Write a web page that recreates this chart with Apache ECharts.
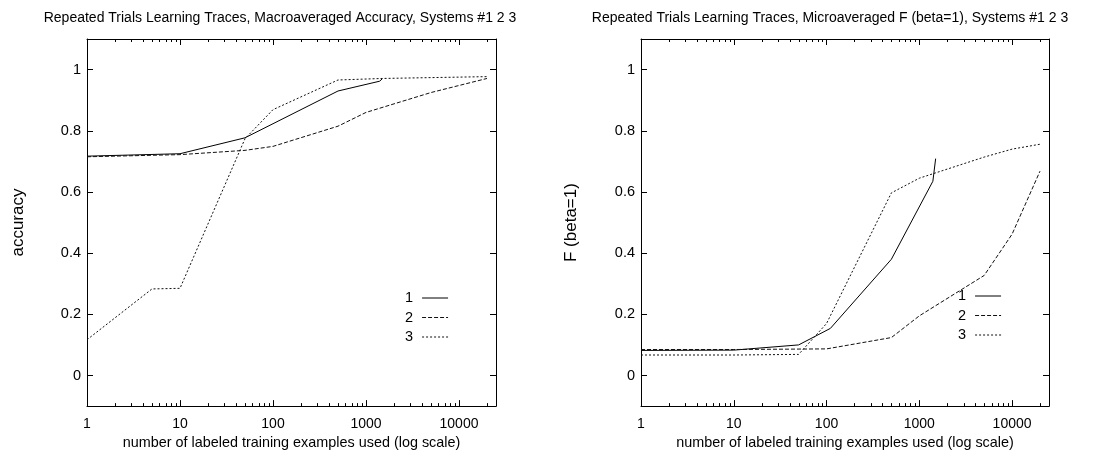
<!DOCTYPE html>
<html><head><meta charset="utf-8">
<script src="https://cdn.jsdelivr.net/npm/echarts@6/dist/echarts.min.js"></script>
<style>html,body{margin:0;padding:0;background:#fff}#c{width:1101px;height:455px}</style>
</head><body><div id="c"></div>
<script>
// ---------- data ----------
const seriesNames = ['1', '2', '3'];
const xMajorTicks = [1, 10, 100, 1000, 10000];
const xMinorTicks = [2,3,4,5,6,7,8,9, 20,30,40,50,60,70,80,90, 200,300,400,500,600,700,800,900,
                     2000,3000,4000,5000,6000,7000,8000,9000, 20000];
const yTickLabels = [0, 0.2, 0.4, 0.6, 0.8, 1];

const leftTitle = 'Repeated Trials Learning Traces, Macroaveraged Accuracy, Systems #1 2 3';
const rightTitle = 'Repeated Trials Learning Traces, Microaveraged F (beta=1), Systems #1 2 3';
const xName = 'number of labeled training examples used (log scale)';
const leftYName = 'accuracy';
const rightYName = 'F (beta=1)';

// Left: macroaveraged accuracy
const accX1 = [1, 10, 50, 500, 1400, 1500];
const accY1 = [0.717, 0.725, 0.777, 0.930, 0.962, 0.970];
const accX2 = [1, 10, 50, 100, 500, 1000, 5000, 20000];
const accY2 = [0.715, 0.722, 0.736, 0.749, 0.815, 0.860, 0.925, 0.971];
const accX3 = [1, 5, 10, 50, 100, 500, 1500, 20000];
const accY3 = [0.117, 0.283, 0.285, 0.774, 0.869, 0.966, 0.971, 0.977];

// Right: microaveraged F (beta=1)
const fX1 = [1, 10, 50, 110, 500, 1400, 1500];
const fY1 = [0.082, 0.083, 0.100, 0.154, 0.380, 0.635, 0.709];
const fX2 = [1, 10, 100, 500, 1000, 5000, 10000, 20000];
const fY2 = [0.085, 0.085, 0.087, 0.124, 0.195, 0.327, 0.462, 0.668];
const fX3 = [1, 10, 50, 100, 500, 1000, 5000, 10000, 20000];
const fY3 = [0.067, 0.067, 0.069, 0.170, 0.597, 0.645, 0.714, 0.740, 0.756];

// ---------- chart ----------
const X_MIN = 1, X_MAX = 25000, Y_MIN = -0.1, Y_MAX = 1.1;
const FONT = "'Liberation Sans', Arial, Helvetica, sans-serif";
const zip = (xs, ys) => xs.map((x, i) => [x, ys[i]]);
const styles = [
  {type: 'solid', color: '#000'},
  {type: [4, 2], color: '#111'},
  {type: [2, 2], color: '#111'}
];

const grids = [
  {left: 87, top: 39, width: 409, height: 370},
  {left: 641, top: 39, width: 408, height: 370}
];

function xAxes(gi, withName) {
  const base = {
    type: 'log', logBase: 10, min: X_MIN, max: X_MAX, gridIndex: gi,
    axisLine: {show: true, onZero: false, lineStyle: {color: '#000', width: 1}},
    axisTick: {show: true, inside: true, length: 6, lineStyle: {color: '#000'}},
    splitLine: {show: false},
    minorTick: {show: false}
  };
  return [
    Object.assign({}, base, {
      position: 'bottom',
      name: withName, nameLocation: 'middle', nameGap: 22,
      nameTextStyle: {fontFamily: FONT, fontSize: 14.4, color: '#000'},
      axisLabel: {
        show: true, margin: 11, fontFamily: FONT, fontSize: 14, color: '#000',
        formatter: v => xMajorTicks.some(t => Math.abs(t - v) / t < 1e-6) ? String(Math.round(v)) : ''
      }
    }),
    Object.assign({}, base, {position: 'top', axisLabel: {show: false}})
  ];
}
function yAxes(gi, name, gap) {
  const base = {
    type: 'value', min: Y_MIN, max: Y_MAX, gridIndex: gi,
    axisLine: {show: true, onZero: false, lineStyle: {color: '#000', width: 1}},
    axisTick: {show: true, inside: true, length: 6, lineStyle: {color: '#000'}},
    splitLine: {show: false}
  };
  return [
    Object.assign({}, base, {
      position: 'left',
      name: name, nameLocation: 'middle', nameGap: gap, nameRotate: 90,
      nameTextStyle: {fontFamily: FONT, fontSize: 17, color: '#000'},
      axisLabel: {
        show: true, margin: 6, fontFamily: FONT, fontSize: 14.5, color: '#000',
        formatter: v => yTickLabels.some(t => Math.abs(t - v) < 1e-6) ? String(+v.toFixed(1)) : ''
      }
    }),
    Object.assign({}, base, {position: 'right', axisLabel: {show: false}})
  ];
}

function minorRender(params, api) {
  const v = api.value(0);
  const b = api.coord([v, Y_MIN]);
  const t = api.coord([v, Y_MAX]);
  const x = Math.round(b[0]) + 0.5;
  return {
    type: 'group',
    children: [
      {type: 'line', shape: {x1: x, y1: b[1], x2: x, y2: b[1] - 3}, style: {stroke: '#000', lineWidth: 1}},
      {type: 'line', shape: {x1: x, y1: t[1], x2: x, y2: t[1] + 3}, style: {stroke: '#000', lineWidth: 1}}
    ]
  };
}

function lineSeries(name, xi, yi, data, k) {
  return {
    type: 'line', name: name, xAxisIndex: xi, yAxisIndex: yi, data: data,
    symbol: 'none', showSymbol: false, smooth: false, silent: true,
    lineStyle: {color: styles[k].color, width: 1, type: styles[k].type},
    itemStyle: {color: styles[k].color}
  };
}

const leftData = [zip(accX1, accY1), zip(accX2, accY2), zip(accX3, accY3)];
const rightData = [zip(fX1, fY1), zip(fX2, fY2), zip(fX3, fY3)];

const series = [];
seriesNames.forEach((n, k) => series.push(lineSeries(n, 0, 0, leftData[k], k)));
seriesNames.forEach((n, k) => series.push(lineSeries(n, 2, 2, rightData[k], k)));
series.push({type: 'custom', name: 'minorL', xAxisIndex: 0, yAxisIndex: 0, silent: true,
             data: xMinorTicks.map(v => [v, 0]), renderItem: minorRender});
series.push({type: 'custom', name: 'minorR', xAxisIndex: 2, yAxisIndex: 2, silent: true,
             data: xMinorTicks.map(v => [v, 0]), renderItem: minorRender});

function legend(left, top) {
  return {
    data: seriesNames, orient: 'vertical', left: left, top: top, align: 'right',
    itemWidth: 26, itemHeight: 10, itemGap: 4.5, padding: 0, selectedMode: false,
    itemStyle: {opacity: 0, color: 'rgba(0,0,0,0)', borderWidth: 0},
    lineStyle: {width: 1},
    textStyle: {fontFamily: FONT, fontSize: 14.5, color: '#000', padding: [0, 4, 0, 0]}
  };
}

const chart = echarts.init(document.getElementById('c'), null, {renderer: 'canvas'});
chart.setOption({
  backgroundColor: '#fff',
  animation: false,
  title: [
    {text: leftTitle, left: 275, top: 6, textAlign: 'center',
     textStyle: {fontFamily: FONT, fontSize: 14, fontWeight: 'normal', color: '#000'}},
    {text: rightTitle, left: 825, top: 6, textAlign: 'center',
     textStyle: {fontFamily: FONT, fontSize: 14, fontWeight: 'normal', color: '#000'}}
  ],
  legend: [legend(405, 290.5), legend(958, 288.5)],
  grid: grids,
  xAxis: [...xAxes(0, xName), ...xAxes(1, xName)],
  yAxis: [...yAxes(0, leftYName, 60), ...yAxes(1, rightYName, 61)],
  series: series
});
</script></body></html>
